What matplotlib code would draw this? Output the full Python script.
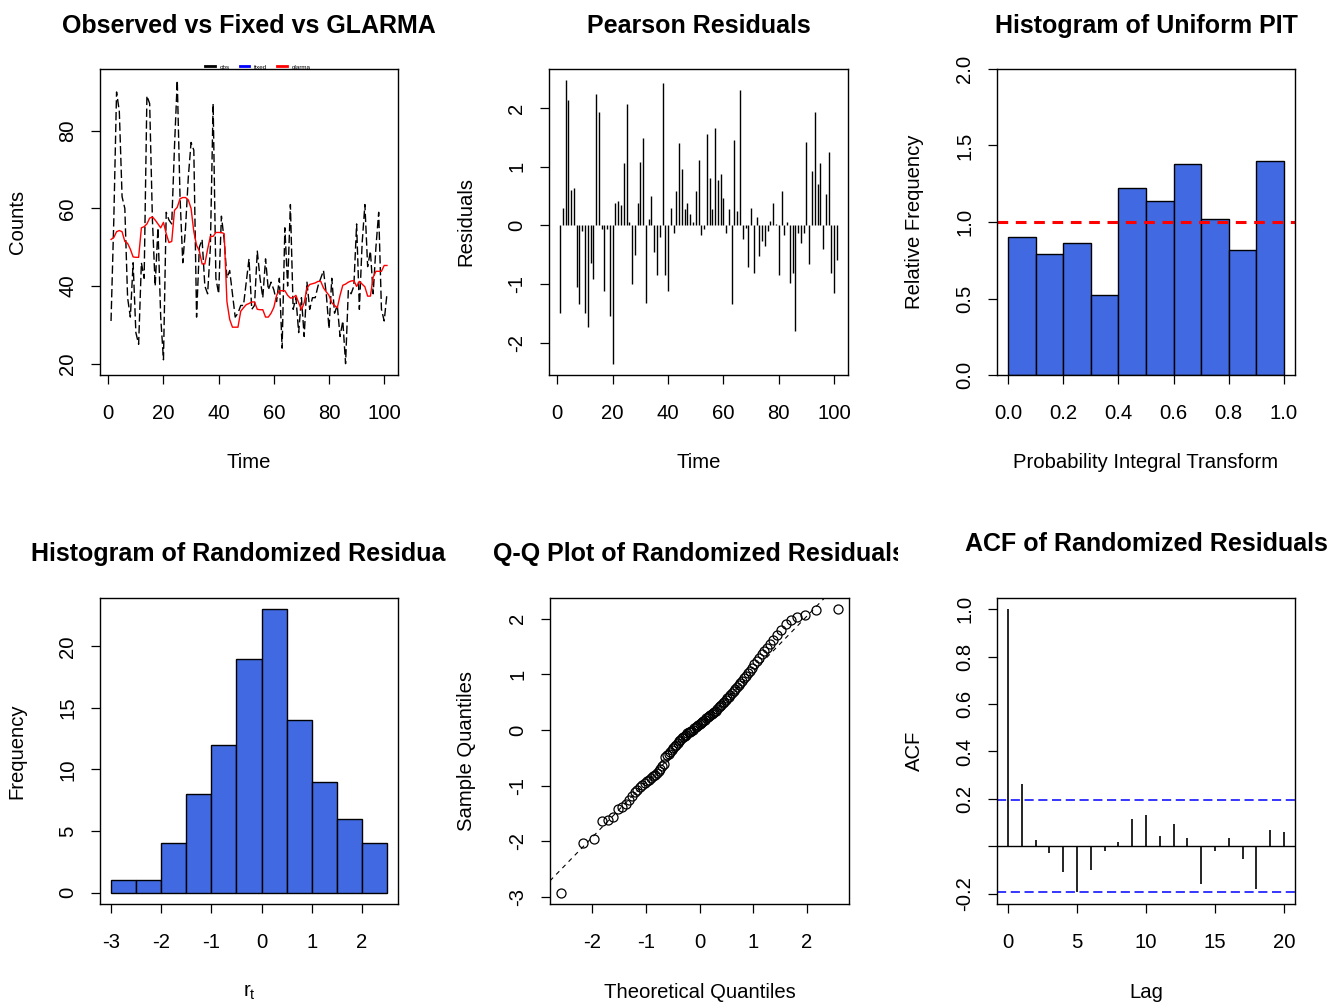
import matplotlib
matplotlib.use("Agg")
import matplotlib.pyplot as plt
from matplotlib.lines import Line2D
from matplotlib.transforms import Bbox, TransformedBbox
import numpy as np
from statistics import NormalDist

plt.rcParams['font.family'] = ['Liberation Sans', 'DejaVu Sans']
plt.rcParams['axes.unicode_minus'] = False
plt.rcParams['mathtext.default'] = 'regular'

W, H = 1339, 1002

# --- data ---
time_idx = np.arange(1, 102)

observed = [31, 57, 90, 85, 63, 60, 37, 32, 46, 28,
            25, 46, 42, 89, 87, 57, 40, 55, 32, 21,
            59, 57, 56, 76, 93, 63, 46, 55, 68, 77,
            75, 32, 50, 52, 40, 38, 50, 87, 42, 38,
            58, 52, 42, 44, 38, 32, 33, 35, 35, 41,
            47, 34, 35, 49, 42, 37, 47, 39, 41, 39,
            36, 42, 24, 55, 40, 61, 34, 37, 28, 37,
            27, 41, 34, 37, 37, 40, 42, 44, 38, 29,
            42, 33, 35, 27, 31, 20, 39, 38, 40, 56,
            34, 51, 61, 45, 49, 38, 50, 59, 34, 31, 38]

glarma_fit = [52, 52.5, 54, 54.3, 54, 51.5, 51, 49.5, 47.5, 47.4,
              47.4, 55, 55.3, 56, 57.5, 57.8, 57, 56, 55, 56.4,
              53.5, 51.2, 51.5, 59.5, 60.3, 62.5, 62.8, 62.8, 62.2, 60,
              54, 50.5, 49, 45.7, 45.7, 49.5, 52.8, 52.8, 53.8, 53.8,
              53.8, 53.5, 36, 31.4, 29.4, 29.4, 29.4, 33.5, 34.4, 35.2,
              35.5, 35.9, 35.9, 34, 33.9, 33.9, 32, 32, 33, 34.5,
              37.6, 38.8, 38.8, 38.8, 37.6, 36.9, 37, 37.6, 35.7, 33.9,
              35.7, 39.5, 40.4, 40.6, 40.8, 41.2, 41.2, 39.5, 38.5, 37.6,
              35.7, 35, 34.4, 37.6, 40.2, 40.5, 41, 41.3, 41.4, 39.9,
              41.2, 40.5, 39.8, 37.4, 37.4, 42.3, 43.8, 43.8, 43.8, 45.3, 45.3]

pearson_resid = [-1.49, 0.3, 2.47, 2.14, 0.6, 0.63, -1.05, -1.34, -0.1, -1.5,
                 -1.74, -0.64, -0.92, 2.23, 1.93, -0.07, -1.12, -0.07, -1.54, -2.36,
                 0.38, 0.42, 0.35, 1.06, 2.07, 0.06, -1.0, -0.5, 0.38, 1.07,
                 1.49, -1.32, 0.11, 0.5, -0.46, -0.85, -0.2, 2.43, -0.85, -1.12,
                 0.3, -0.13, 0.58, 1.41, 0.96, 0.28, 0.38, 0.19, 0.06, 0.58,
                 1.12, -0.17, -0.07, 1.55, 0.8, 0.28, 1.65, 0.77, 0.87, 0.47,
                 -0.13, 0.28, -1.34, 1.45, 0.24, 2.3, -0.24, -0.05, -0.72, 0.3,
                 -0.82, 0.14, -0.53, -0.27, -0.36, -0.1, 0.08, 0.38, 0.02, -0.85,
                 0.58, -0.17, 0.06, -0.98, -0.82, -1.8, -0.13, -0.3, -0.13, 1.42,
                 -0.66, 0.93, 1.93, 0.7, 1.06, -0.4, 0.54, 1.25, -0.82, -1.15, -0.6]

pit_edges = [0.0, 0.1, 0.2, 0.3, 0.4, 0.5, 0.6, 0.7, 0.8, 0.9, 1.0]
pit_height = [0.90, 0.79, 0.86, 0.52, 1.22, 1.14, 1.38, 1.02, 0.82, 1.40]

rand_resid = [-2.92, -2.03,
              -1.96, -1.64, -1.61, -1.56,
              -1.42, -1.38, -1.33, -1.25, -1.18, -1.12, -1.07, -1.03,
              -0.98, -0.95, -0.92, -0.89, -0.86, -0.83, -0.80, -0.77, -0.73, -0.69, -0.65, -0.61,
              -0.48, -0.45, -0.42, -0.39, -0.35, -0.32, -0.29, -0.26, -0.23, -0.20,
              -0.17, -0.14, -0.12, -0.10, -0.08, -0.06, -0.04, -0.03, -0.01,
              0.01, 0.03, 0.05, 0.07, 0.09, 0.11, 0.13, 0.15, 0.17, 0.19,
              0.21, 0.23, 0.25, 0.27, 0.29, 0.31, 0.33, 0.35, 0.38, 0.41, 0.44, 0.46, 0.49,
              0.51, 0.54, 0.57, 0.60, 0.63, 0.67, 0.70, 0.73, 0.77, 0.81, 0.85, 0.89, 0.93, 0.97,
              1.03, 1.07, 1.12, 1.18, 1.24, 1.30, 1.36, 1.42, 1.47,
              1.55, 1.62, 1.70, 1.79, 1.90, 1.98,
              2.03, 2.07, 2.16, 2.17]
hist_edges = [-3.0, -2.5, -2.0, -1.5, -1.0, -0.5, 0.0, 0.5, 1.0, 1.5, 2.0, 2.5]

acf_lags = np.arange(0, 21)
acf_vals = [1.0, 0.262, 0.025, -0.028, -0.108, -0.193, -0.101, -0.02, 0.018, 0.115,
            0.131, 0.042, 0.092, 0.035, -0.158, -0.021, 0.035, -0.052, -0.182, 0.068, 0.059]
acf_ci = 0.195

FS = 14.6
TFS = 18

# column edges (px) where the R figure regions cut the titles
COL_EDGES = [0, 447, 898, W]

fig = plt.figure(figsize=(W / 100, H / 100), dpi=100)


def box(l, t, r, b):
    return fig.add_axes([l / W, 1 - b / H, (r - l) / W, (b - t) / H])


def style(ax, title, xlab, ylab, col, tpad=26, clip=False):
    for s in ax.spines.values():
        s.set_linewidth(1.0)
    ax.tick_params(direction='out', length=6.5, width=0.9, labelsize=FS)
    ax.tick_params(axis='x', pad=14.5)
    ax.tick_params(axis='y', pad=10, labelrotation=90)
    for lab in ax.get_yticklabels():
        lab.set_va('center')
    ax.set_xlabel(xlab, fontsize=FS, va='center')
    ax.xaxis.set_label_coords(0.5, -88 / 306)
    ax.set_ylabel(ylab, fontsize=FS, va='center')
    ax.yaxis.set_label_coords(-83 / 298, 0.5)
    t = ax.set_title(title, fontsize=TFS, fontweight='bold', pad=tpad)
    if clip:
        x0, x1 = COL_EDGES[col] / W, COL_EDGES[col + 1] / W
        t.set_clip_box(TransformedBbox(Bbox([[x0, 0], [x1, 1]]), fig.transFigure))
        t.set_clip_on(True)


# 1: observed vs fitted
ax1 = box(100, 69, 398, 375)
ax1.plot(time_idx, observed, color='black', lw=1.0, dashes=(6, 2.5))
ax1.plot(time_idx, glarma_fit, color='red', lw=1.0)
ax1.margins(0.04)
ax1.set_xticks([0, 20, 40, 60, 80, 100])
ax1.set_yticks([20, 40, 60, 80])
style(ax1, 'Observed vs Fixed vs GLARMA', 'Time', 'Counts', 0)
handles = [Line2D([], [], color='black', lw=2), Line2D([], [], color='blue', lw=2),
           Line2D([], [], color='red', lw=2)]
leg = ax1.legend(handles, ['obs', 'fixed', 'glarma'], ncol=3, fontsize=4.5, frameon=False,
                 loc='center', bbox_to_anchor=(0.53, 1.007), handlelength=1.5,
                 handletextpad=0.8, columnspacing=1.6, borderpad=0)

# 2: pearson residuals
ax2 = box(549, 69, 848, 375)
ax2.vlines(time_idx, 0, pearson_resid, color='black', lw=1.0)
ax2.margins(0.04)
ax2.set_xticks([0, 20, 40, 60, 80, 100])
ax2.set_yticks([-2, -1, 0, 1, 2])
style(ax2, 'Pearson Residuals', 'Time', 'Residuals', 1)

# 3: PIT histogram
ax3 = box(997, 69, 1295, 375)
ax3.bar(pit_edges[:-1], pit_height, width=np.diff(pit_edges), align='edge',
        color='#4169E1', edgecolor='black', lw=1.0)
ax3.axhline(1.0, color='red', lw=2.2, dashes=(3.5, 2.5))
ax3.set_xlim(-0.04, 1.04)
ax3.set_ylim(0, 2)
ax3.set_xticks(pit_edges[::2])
ax3.set_xticklabels(['%.1f' % v for v in pit_edges[::2]])
ax3.set_yticks([0, 0.5, 1.0, 1.5, 2.0])
ax3.set_yticklabels(['0.0', '0.5', '1.0', '1.5', '2.0'])
style(ax3, 'Histogram of Uniform PIT', 'Probability Integral Transform', 'Relative Frequency', 2)

# 4: histogram of randomized residuals
ax4 = box(100, 598, 398, 904)
ax4.hist(rand_resid, bins=hist_edges, color='#4169E1', edgecolor='black', lw=1.0)
ax4.margins(0.04)
ax4.set_ylim(bottom=-0.92)
ax4.set_xticks([-3, -2, -1, 0, 1, 2])
ax4.set_yticks([0, 5, 10, 15, 20])
style(ax4, 'Histogram of Randomized Residuals', '$r_t$', 'Frequency', 0, tpad=26.5, clip=True)

# 5: Q-Q plot
ax5 = box(550, 598, 849, 904)
n = len(rand_resid)
theo = [NormalDist().inv_cdf((i - 0.5) / n) for i in range(1, n + 1)]
ax5.plot(theo, sorted(rand_resid), ls='none', marker='o', ms=6.5, mfc='none',
         mec='black', mew=0.9)
q1, q3 = np.quantile(rand_resid, [0.25, 0.75])
z1, z3 = NormalDist().inv_cdf(0.25), NormalDist().inv_cdf(0.75)
slope = (q3 - q1) / (z3 - z1)
ax5.axline((0, q1 - slope * z1), slope=slope, color='black', lw=0.8, dashes=(4, 4))
ax5.margins(0.04)
ax5.set_xticks([-2, -1, 0, 1, 2])
ax5.set_yticks([-3, -2, -1, 0, 1, 2])
style(ax5, 'Q-Q Plot of Randomized Residuals', 'Theoretical Quantiles', 'Sample Quantiles', 1,
      tpad=26.5, clip=True)

# 6: ACF
ax6 = box(997, 598, 1295, 904)
ax6.vlines(acf_lags, 0, acf_vals, color='black', lw=1.2)
ax6.axhline(0, color='black', lw=1.0)
ax6.axhline(acf_ci, color='blue', lw=1.1, dashes=(6, 3))
ax6.axhline(-acf_ci, color='blue', lw=1.1, dashes=(6, 3))
ax6.set_xlim(-0.8, 20.8)
ax6.set_ylim(-0.244, 1.048)
ax6.set_xticks([0, 5, 10, 15, 20])
ax6.set_yticks([-0.2, 0.0, 0.2, 0.4, 0.6, 0.8, 1.0])
ax6.set_yticklabels(['-0.2', '', '0.2', '0.4', '0.6', '0.8', '1.0'])
style(ax6, 'ACF of Randomized Residuals', 'Lag', 'ACF', 2, tpad=34)

fig.savefig('out.png', dpi=100)
